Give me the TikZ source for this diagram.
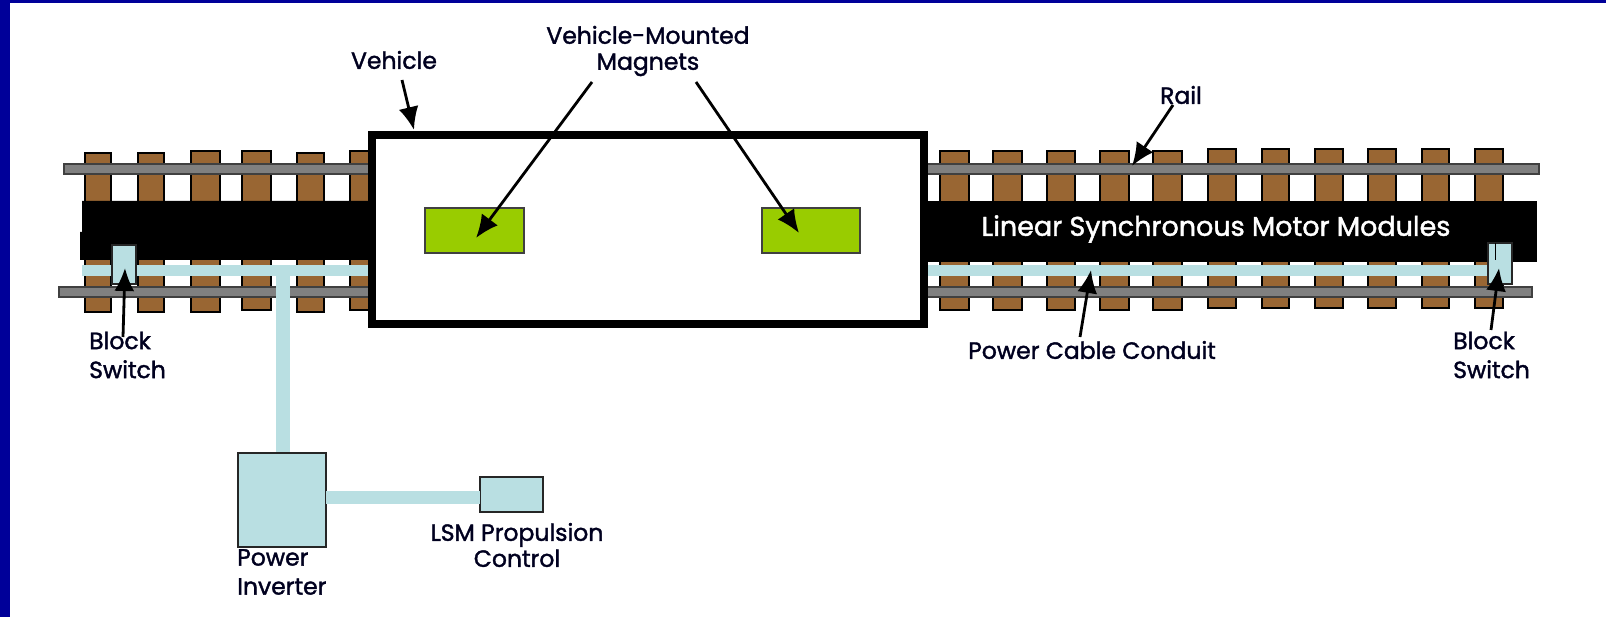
\documentclass[tikz,border=0pt]{standalone}
\usepackage{fontspec}
\setmainfont{Poppins}[FakeBold=1.6]
\usetikzlibrary{arrows.meta}
\definecolor{slideblue}{HTML}{000099}
\definecolor{tiebrown}{HTML}{996633}
\definecolor{railgray}{HTML}{808080}
\definecolor{conduit}{HTML}{B9DFE2}
\definecolor{magnetgreen}{HTML}{99CC00}
\tikzset{
  x=1pt,y=-1pt,
  tie/.style={draw=black,line width=1.6pt,fill=tiebrown},
  railbar/.style={draw=black!75,line width=1.2pt,fill=railgray},
  lsmband/.style={fill=black},
  cable/.style={fill=conduit},
  cbox/.style={draw=black!85,line width=1.6pt,fill=conduit,inner sep=0pt,outer sep=0pt},
  vehiclebox/.style={draw=black,line width=8pt,fill=white,inner sep=0pt,outer sep=0pt},
  magnetbox/.style={draw=black!75,line width=1.2pt,fill=magnetgreen,inner sep=0pt,outer sep=0pt},
  lbl/.style={font=\fontsize{23.5}{26}\selectfont,text=black!88!blue,inner sep=0pt,align=center},
  callout/.style={line width=2.8pt,draw=black,-{Latex[length=23pt,width=20pt]}},
}
\newcommand{\boxnode}[6]{% style,name,x1,y1,x2,y2
  \pgfmathsetmacro{\bw}{#5-#3}\pgfmathsetmacro{\bh}{#6-#4}
  \node[#1,anchor=north west,minimum width=\bw pt,minimum height=\bh pt] (#2) at (#3,#4) {};}
\begin{document}
\begin{tikzpicture}
\useasboundingbox (0,0) rectangle (1606,617);
\fill[white] (0,0) rectangle (1606,617);
\fill[slideblue] (0,0) rectangle (1606,3);
\fill[slideblue] (0,0) rectangle (10,617);
% ties
\foreach \a/\b/\t/\u in {85/111/153/312,138/164/153/312,191/220/151/312,242/271/151/310,297/324/153/312,350/372/151/310,
  940/969/151/310,993/1022/151/310,1047/1075/151/310,1100/1129/151/310,1153/1182/151/310,
  1208/1236/149/308,1262/1289/149/308,1315/1343/149/308,1368/1396/149/308,1422/1449/149/308,1475/1503/149/308}
  \draw[tie] (\a,\t) rectangle (\b,\u);
% rails
\draw[railbar] (64,164) rectangle (372,174);
\draw[railbar] (59,287) rectangle (372,297);
\draw[railbar] (924,164) rectangle (1539,174);
\draw[railbar] (924,287) rectangle (1532,297);
% LSM band
\fill[lsmband] (82,201) -- (372,201) -- (372,260) -- (80,260) -- (80,232) -- (82,232) -- cycle;
\fill[lsmband] (924,201) rectangle (1537,262);
% conduit
\fill[cable] (82,265) rectangle (372,276);
\fill[cable] (276,265) rectangle (290,453);
\fill[cable] (924,265) rectangle (1490,276);
% inverter, control
\boxnode{cbox}{inverter}{238}{453}{326}{547}
\boxnode{cbox}{control}{480}{477}{543}{512}
\fill[cable] (inverter.east |- 0,491) rectangle (control.west |- 0,504);
% block switches
\boxnode{cbox}{switchL}{112}{245}{136}{284}
\boxnode{cbox}{switchR}{1488}{243}{1512}{284}
\draw[line width=1.6pt,black] (1495.5,243) -- (1495.5,260);
% vehicle and magnets
\boxnode{vehiclebox}{vehicle}{372}{135.5}{924}{324.5}
\boxnode{magnetbox}{magnetL}{425}{208}{524}{253}
\boxnode{magnetbox}{magnetR}{762}{208}{860}{253}
% labels
\node[lbl] (lVehicle) at (394,60) {Vehicle};
\node[lbl] (lMagnets) at (648,51) {Vehicle-Mounted\\[0pt]Magnets};
\node[lbl] (lRail) at (1181,95) {Rail};
\node[lbl,text=white,font=\fontsize{27}{30}\selectfont] (lLSM) at (1216,229) {Linear Synchronous Motor Modules};
\node[lbl] (lConduit) at (1092,350) {Power Cable Conduit};
\node[lbl,anchor=west,align=left] (lSwitchL) at (89,355) {Block\\[3pt]Switch};
\node[lbl,anchor=west,align=left] (lSwitchR) at (1453,355) {Block\\[3pt]Switch};
\node[lbl,anchor=west,align=left] (lInverter) at (237,572) {Power\\[3pt]Inverter};
\node[lbl] (lControl) at (517,545) {LSM Propulsion\\[0pt]Control};
% callouts
\coordinate (tVehicle) at (414,130);
\coordinate (sVehicle) at (402,80);
\coordinate (sMagL) at (592,82);
\coordinate (tMagL) at (476,238);
\coordinate (sMagR) at (696,82);
\coordinate (tMagR) at (799,233);
\coordinate (sRail) at (1173,105);
\coordinate (tRail) at (1132,166);
\coordinate (sCond) at (1080,337);
\coordinate (tCond) at (1091,270);
\coordinate (sSwL) at (123,337);
\coordinate (tSwL) at (125,268);
\coordinate (sSwR) at (1491,330);
\coordinate (tSwR) at (1499,268);
\draw[callout] (sVehicle) -- (tVehicle);
\draw[callout] (sMagL) -- (tMagL);
\draw[callout] (sMagR) -- (tMagR);
\draw[callout] (sRail) -- (tRail);
\draw[callout] (sCond) -- (tCond);
\draw[callout] (sSwL) -- (tSwL);
\draw[callout] (sSwR) -- (tSwR);
\end{tikzpicture}
\end{document}
